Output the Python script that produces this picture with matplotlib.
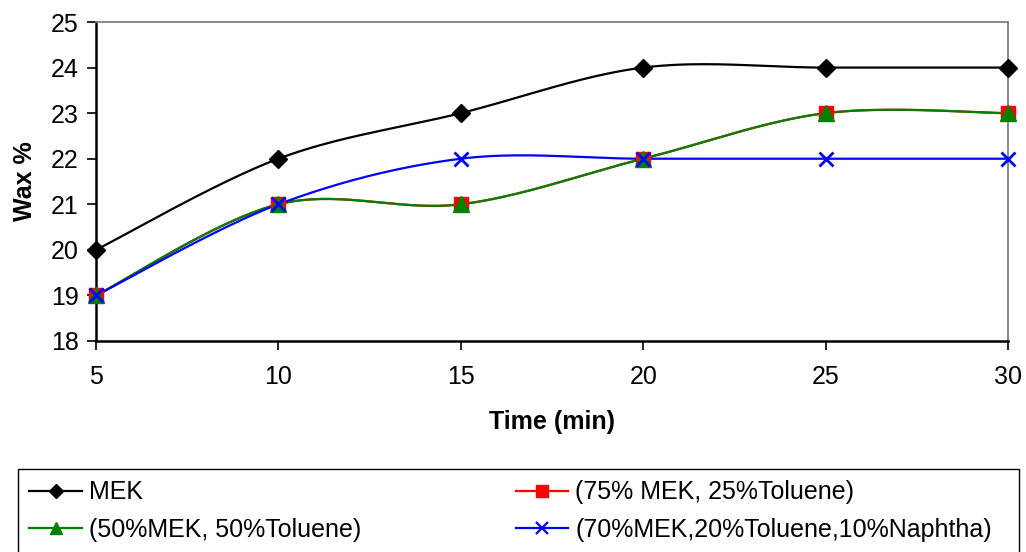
import numpy as np
import matplotlib
matplotlib.use("Agg")
import matplotlib.pyplot as plt
from matplotlib.lines import Line2D
from matplotlib.patches import Rectangle

plt.rcParams['font.family'] = ['Liberation Sans', 'DejaVu Sans']

time_min = [5, 10, 15, 20, 25, 30]
mek = [20, 22, 23, 24, 24, 24]
mek75_tol25 = [19, 21, 21, 22, 23, 23]
mek50_tol50 = [19, 21, 21, 22, 23, 23]
mek70_tol20_nap10 = [19, 21, 22, 22, 22, 22]

labels = ["MEK", "(75% MEK, 25%Toluene)", "(50%MEK, 50%Toluene)",
          "(70%MEK,20%Toluene,10%Naphtha)"]


def smooth(x, y, n=40):
    """Bezier smoothing through the points (Catmull-Rom style tangents)."""
    x = np.asarray(x, float)
    y = np.asarray(y, float)
    pts = np.column_stack([x, y])
    out = []
    for i in range(len(pts) - 1):
        p0 = pts[i - 1] if i > 0 else pts[i]
        p1 = pts[i]
        p2 = pts[i + 1]
        p3 = pts[i + 2] if i + 2 < len(pts) else pts[i + 1]
        c1 = p1 + (p2 - p0) / 6.0
        c2 = p2 - (p3 - p1) / 6.0
        t = np.linspace(0, 1, n)[:, None]
        seg = ((1 - t) ** 3) * p1 + 3 * ((1 - t) ** 2) * t * c1 \
            + 3 * (1 - t) * t ** 2 * c2 + t ** 3 * p2
        out.append(seg if i == 0 else seg[1:])
    s = np.vstack(out)
    return s[:, 0], s[:, 1]


W, H = 1026, 552
fig = plt.figure(figsize=(W / 100, H / 100), dpi=100)
ax = fig.add_axes([96 / W, 1 - 341 / H, 912 / W, 319 / H])

series = [
    (mek, 'black', 'D', 9, 7),
    (mek75_tol25, 'red', 's', 10, 8),
    (mek50_tol50, 'green', '^', 11, 9),
    (mek70_tol20_nap10, 'blue', 'x', 10, 9),
]
handles = []
for (vals, color, mk, ms, lms), lab in zip(series, labels):
    sx, sy = smooth(time_min, vals)
    ax.plot(sx, sy, color=color, lw=1.6, zorder=3)
    mew = 2.0 if mk == 'x' else 1.0
    ax.plot(time_min, vals, ls='none', marker=mk, ms=ms, color=color,
            mec=color, mew=mew, zorder=4, clip_on=False)
    handles.append(Line2D([], [], color=color, lw=1.6, marker=mk,
                          ms=lms, mew=1.6 if mk == 'x' else 1.0, label=lab))

ax.set_xlim(5, 30)
ax.set_ylim(18, 25)
ax.set_xticks(time_min)
ax.set_yticks(range(18, 26))
ax.tick_params(axis='both', labelsize=18, direction='out', length=6.5,
               width=1.2, color='black')
ax.tick_params(axis='x', pad=11)
ax.tick_params(axis='y', pad=6)
for side in ('left', 'bottom'):
    ax.spines[side].set_color('black')
    ax.spines[side].set_linewidth(1.8)
for side in ('top', 'right'):
    ax.spines[side].set_color('#808080')
    ax.spines[side].set_linewidth(1.3)

ax.set_xlabel("Time (min)", fontsize=18, fontweight='bold', labelpad=15)
ax.set_ylabel("Wax %", fontsize=18, fontweight='bold', labelpad=10)

# legend entries laid out row by row (matplotlib fills columns first)
order = [0, 2, 1, 3]
leg_top = 1 - 469 / H
leg = fig.legend(handles=[handles[i] for i in order], ncol=2,
                 loc='upper left',
                 bbox_to_anchor=(18 / W, leg_top - 0.2, 985 / W, 0.2),
                 mode='expand', fontsize=18, frameon=False,
                 handlelength=2.1, handletextpad=0.28,
                 borderaxespad=0.0, labelspacing=0.55, borderpad=0.45)

fig.patches.append(Rectangle((18 / W, -0.02), 1001 / W, leg_top + 0.02,
                             transform=fig.transFigure, fill=False,
                             edgecolor='black', lw=1.0))

fig.savefig("out.png", dpi=100, facecolor='white')
